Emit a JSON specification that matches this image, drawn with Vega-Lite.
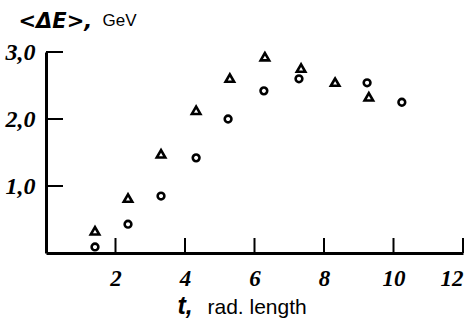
{
  "$schema": "https://vega.github.io/schema/vega-lite/v6.json",
  "width": 417,
  "height": 201,
  "autosize": {"type": "none"},
  "padding": {"left": 46, "top": 52, "right": 5, "bottom": 70},
  "background": "white",
  "config": {
    "view": {"stroke": null},
    "axis": {
      "domainColor": "black",
      "domainWidth": 3,
      "grid": false,
      "labelColor": "black",
      "titleColor": "black"
    }
  },
  "datasets": {
    "pts": [
      {"t": 1.41, "dE": 0.33, "series": "triangle"},
      {"t": 2.36, "dE": 0.82, "series": "triangle"},
      {"t": 3.31, "dE": 1.48, "series": "triangle"},
      {"t": 4.32, "dE": 2.13, "series": "triangle"},
      {"t": 5.29, "dE": 2.61, "series": "triangle"},
      {"t": 6.3, "dE": 2.93, "series": "triangle"},
      {"t": 7.34, "dE": 2.76, "series": "triangle"},
      {"t": 8.32, "dE": 2.55, "series": "triangle"},
      {"t": 9.29, "dE": 2.33, "series": "triangle"},
      {"t": 1.41, "dE": 0.09, "series": "circle"},
      {"t": 2.36, "dE": 0.43, "series": "circle"},
      {"t": 3.31, "dE": 0.85, "series": "circle"},
      {"t": 4.32, "dE": 1.42, "series": "circle"},
      {"t": 5.24, "dE": 2.0, "series": "circle"},
      {"t": 6.27, "dE": 2.42, "series": "circle"},
      {"t": 7.28, "dE": 2.6, "series": "circle"},
      {"t": 9.24, "dE": 2.54, "series": "circle"},
      {"t": 10.24, "dE": 2.25, "series": "circle"}
    ],
    "xticks": [{"v": 2}, {"v": 4}, {"v": 6}, {"v": 8}, {"v": 10}, {"v": 12}],
    "yticks": [{"v": 1}, {"v": 2}, {"v": 3}]
  },
  "resolve": {"axis": {"x": "independent", "y": "independent"}},
  "layer": [
    {
      "data": {"name": "xticks"},
      "mark": {"type": "tick", "orient": "vertical", "color": "black", "size": 15, "thickness": 2, "opacity": 1},
      "encoding": {
        "x": {"field": "v", "type": "quantitative", "scale": {"domain": [0, 12], "nice": false, "zero": true}, "axis": {
            "orient": "bottom",
            "values": [2, 4, 6, 8, 10, 12],
            "ticks": false,
            "labelPadding": 14,
            "labelFont": "Liberation Sans Narrow",
            "labelFontWeight": "bold",
            "labelFontStyle": "italic",
            "labelFontSize": 23,
            "labelBaseline": "top",
            "title": "t,",
            "titleFont": "Liberation Sans",
            "titleFontWeight": "bold",
            "titleFontStyle": "italic",
            "titleFontSize": 25,
            "titleAlign": "left",
            "titleBaseline": "alphabetic",
            "titleAnchor": null,
            "titleX": 131,
            "titleY": 60
          }},
        "y": {"datum": 0.112, "type": "quantitative", "scale": {"domain": [0, 3], "nice": false}, "axis": {
            "orient": "left",
            "values": [1, 2, 3],
            "ticks": false,
            "labelPadding": 11,
            "labelFont": "Liberation Sans Narrow",
            "labelFontWeight": "bold",
            "labelFontStyle": "italic",
            "labelFontSize": 24,
            "labelExpr": "replace(format(datum.value, '.1f'), '.', ',')",
            "title": "<ΔE>,",
            "titleFont": "DejaVu Sans",
            "titleFontWeight": "bold",
            "titleFontStyle": "italic",
            "titleFontSize": 21,
            "titleAngle": 0,
            "titleAlign": "left",
            "titleBaseline": "alphabetic",
            "titleAnchor": null,
            "titleX": -28,
            "titleY": -25
          }}
      }
    },
    {
      "data": {"name": "yticks"},
      "mark": {"type": "tick", "orient": "horizontal", "color": "black", "size": 17, "thickness": 2, "opacity": 1},
      "encoding": {
        "y": {"field": "v", "type": "quantitative", "axis": {
            "orient": "left",
            "ticks": false,
            "labels": false,
            "domain": false,
            "title": "GeV",
            "titleFont": "Liberation Sans",
            "titleFontWeight": "normal",
            "titleFontSize": 17,
            "titleAngle": 0,
            "titleAlign": "left",
            "titleBaseline": "alphabetic",
            "titleAnchor": null,
            "titleX": 56,
            "titleY": -27
          }},
        "x": {"datum": 0.245, "type": "quantitative", "axis": {
            "orient": "bottom",
            "ticks": false,
            "labels": false,
            "domain": false,
            "title": "rad. length",
            "titleFont": "Liberation Sans",
            "titleFontWeight": "normal",
            "titleFontSize": 21,
            "titleAlign": "left",
            "titleBaseline": "alphabetic",
            "titleAnchor": null,
            "titleX": 161,
            "titleY": 60
          }}
      }
    },
    {
      "data": {"name": "pts"},
      "mark": {"type": "point", "filled": false, "stroke": "black", "strokeWidth": 2.6, "opacity": 1},
      "encoding": {
        "x": {"field": "t", "type": "quantitative", "axis": null},
        "y": {"field": "dE", "type": "quantitative", "axis": null},
        "shape": {"field": "series", "type": "nominal", "scale": {"domain": ["triangle", "circle"], "range": ["triangle-up", "circle"]}, "legend": null},
        "size": {"field": "series", "type": "nominal", "scale": {"domain": ["triangle", "circle"], "range": [72, 45]}, "legend": null}
      }
    }
  ]
}
